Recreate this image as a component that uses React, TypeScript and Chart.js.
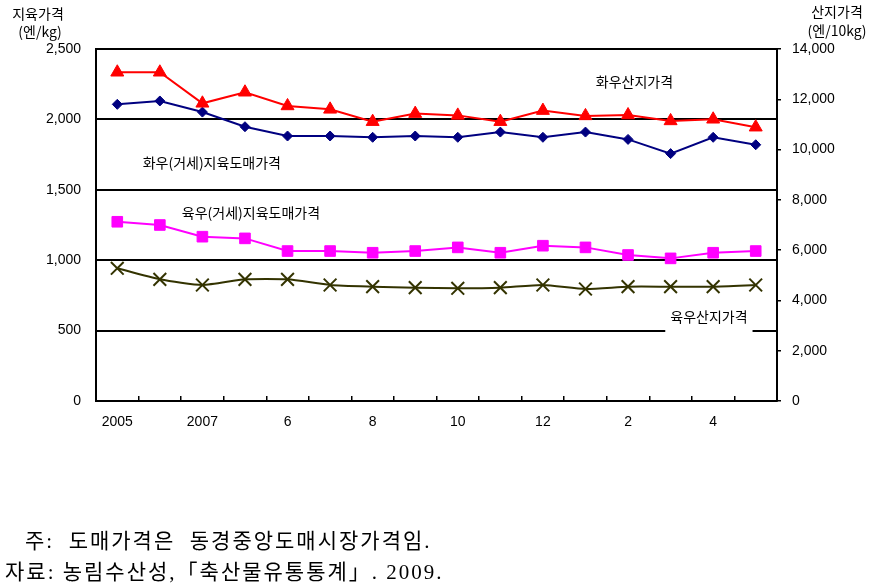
import { useEffect, useRef } from "react";
import { Chart, registerables } from "chart.js";

Chart.register(...registerables);

const categories = ["2005", "2006", "2007.4", "5", "6", "7", "8", "9", "10", "11", "12", "2008.1", "2", "3", "4", "5"];
const xTickLabels = ["2005", "", "2007", "", "6", "", "8", "", "10", "", "12", "", "2", "", "4", ""];

// 화우산지가격 (엔/10kg, right axis)
const hanwooFarm = [13075, 13075, 11840, 12280, 11735, 11600, 11110, 11430, 11360, 11110, 11550, 11340, 11375, 11140, 11205, 10890];
// 화우(거세)지육도매가격 (엔/kg, left axis)
const hanwooWholesale = [2107, 2131, 2052, 1948, 1882, 1882, 1873, 1882, 1873, 1910, 1873, 1910, 1858, 1757, 1873, 1820];
// 육우(거세)지육도매가격 (엔/kg, left axis)
const yukuWholesale = [1273, 1250, 1167, 1155, 1065, 1065, 1053, 1065, 1091, 1053, 1103, 1091, 1037, 1013, 1053, 1065];
// 육우산지가격 (엔/10kg, right axis)
const yukuFarm = [5278, 4840, 4614, 4840, 4840, 4614, 4547, 4507, 4483, 4507, 4614, 4455, 4547, 4547, 4547, 4614];

const seriesNames = ["화우산지가격", "화우(거세)지육도매가격", "육우(거세)지육도매가격", "육우산지가격"];
const leftAxisTitle = ["지육가격", "(엔/kg)"];
const rightAxisTitle = ["산지가격", "(엔/10kg)"];

const KFONT = '"Noto Sans CJK KR", "Liberation Sans", sans-serif';
const NFONT = '"Liberation Sans", Arial, sans-serif';

const labelPlugin = {
  id: "seriesLabels",
  afterDraw(chart: any) {
    const ctx = chart.ctx;
    const x = chart.scales.x;
    const y = chart.scales.y;
    const area = chart.chartArea;
    const anchors = [
      { i: 12.15, v: 2266, box: false },
      { i: 2.22, v: 1690, box: false },
      { i: 3.14, v: 1335, box: false },
      { i: 13.9, v: 597, box: true },
    ];
    ctx.save();
    ctx.font = `14px ${KFONT}`;
    ctx.textAlign = "center";
    ctx.textBaseline = "middle";
    anchors.forEach((a, k) => {
      const px = x.getPixelForValue(a.i);
      const py = y.getPixelForValue(a.v);
      const text = seriesNames[k];
      if (a.box) {
        const w = ctx.measureText(text).width + 10;
        ctx.fillStyle = "#ffffff";
        ctx.fillRect(px - w / 2, py - 12, w, 28);
      }
      ctx.fillStyle = "#000000";
      ctx.fillText(text, px, py);
    });
    // axis titles
    ctx.font = `14px ${KFONT}`;
    ctx.fillStyle = "#000000";
    ctx.fillText(leftAxisTitle[0], area.left - 58, area.top - 35);
    ctx.fillText(leftAxisTitle[1], area.left - 56, area.top - 17);
    ctx.fillText(rightAxisTitle[0], area.right + 60, area.top - 37);
    ctx.fillText(rightAxisTitle[1], area.right + 60, area.top - 18);
    ctx.restore();
  },
};

export default function App() {
  const ref = useRef<HTMLCanvasElement | null>(null);

  useEffect(() => {
    if (!ref.current) return;
    const chart = new Chart(ref.current, {
      type: "line",
      data: {
        labels: categories,
        datasets: [
          {
            label: seriesNames[0],
            data: hanwooFarm,
            yAxisID: "y2",
            borderColor: "#ff0000",
            backgroundColor: "#ff0000",
            pointStyle: "triangle",
            pointRadius: 7.5,
            pointBorderWidth: 1,
            borderWidth: 2,
          },
          {
            label: seriesNames[1],
            data: hanwooWholesale,
            yAxisID: "y",
            borderColor: "#000080",
            backgroundColor: "#000080",
            pointStyle: "rectRot",
            pointRadius: 5,
            pointBorderWidth: 1,
            borderWidth: 2,
          },
          {
            label: seriesNames[2],
            data: yukuWholesale,
            yAxisID: "y",
            borderColor: "#ff00ff",
            backgroundColor: "#ff00ff",
            pointStyle: "rect",
            pointRadius: 7.5,
            pointBorderWidth: 1,
            borderWidth: 2,
          },
          {
            label: seriesNames[3],
            data: yukuFarm,
            yAxisID: "y2",
            borderColor: "#333300",
            backgroundColor: "#333300",
            pointStyle: "crossRot",
            pointRadius: 9,
            pointBorderWidth: 2,
            borderWidth: 2,
            tension: 0.2,
          },
        ],
      },
      options: {
        animation: false,
        responsive: true,
        maintainAspectRatio: false,
        layout: { padding: { left: 0, right: 0, top: 49, bottom: 152 } },
        plugins: {
          legend: { display: false },
          tooltip: { enabled: false },
        },
        scales: {
          x: {
            type: "category",
            offset: true,
            grid: {
              offset: true,
              drawOnChartArea: false,
              drawTicks: true,
              tickLength: -5,
              color: "#000000",
              lineWidth: 1.5,
            },
            border: { display: true, color: "#000000", width: 2 },
            ticks: {
              autoSkip: false,
              maxRotation: 0,
              padding: 18,
              color: "#000000",
              font: { family: NFONT, size: 14 },
              callback: (_v: any, i: number) => xTickLabels[i],
            },
            afterFit: (s: any) => {
              s.height = 35;
            },
          },
          y: {
            position: "left",
            min: 0,
            max: 2500,
            grid: { color: "#000000", lineWidth: 2, drawTicks: false },
            border: { display: true, color: "#000000", width: 2 },
            ticks: {
              stepSize: 500,
              padding: 15,
              color: "#000000",
              font: { family: NFONT, size: 14 },
              callback: (v: any) => Number(v).toLocaleString("en-US"),
            },
            afterFit: (s: any) => {
              s.width = 96;
            },
          },
          y2: {
            position: "right",
            min: 0,
            max: 14000,
            grid: { drawOnChartArea: false, color: "#000000", lineWidth: 1.5, tickLength: 4 },
            border: { display: true, color: "#000000", width: 2 },
            ticks: {
              stepSize: 2000,
              padding: 11,
              color: "#000000",
              font: { family: NFONT, size: 14 },
              callback: (v: any) => Number(v).toLocaleString("en-US"),
            },
            afterFit: (s: any) => {
              s.width = 101;
            },
          },
        },
      },
      plugins: [labelPlugin],
    });
    return () => chart.destroy();
  }, []);

  const noteStyle: React.CSSProperties = {
    position: "absolute",
    fontFamily: '"Liberation Serif", "Noto Sans CJK KR", serif',
    fontSize: "21px",
    letterSpacing: "2px",
    whiteSpace: "pre",
    lineHeight: "24px",
    color: "#000",
  };

  return (
    <div style={{ position: "fixed", left: 0, top: 0, width: 878, height: 588, background: "#fff" }}>
      <canvas ref={ref} />
      <div style={{ ...noteStyle, left: 25, top: 529 }}>{"주:  도매가격은  동경중앙도매시장가격임."}</div>
      <div style={{ ...noteStyle, left: 5, top: 560 }}>{"자료: 농림수산성,「축산물유통통계」. 2009."}</div>
    </div>
  );
}
